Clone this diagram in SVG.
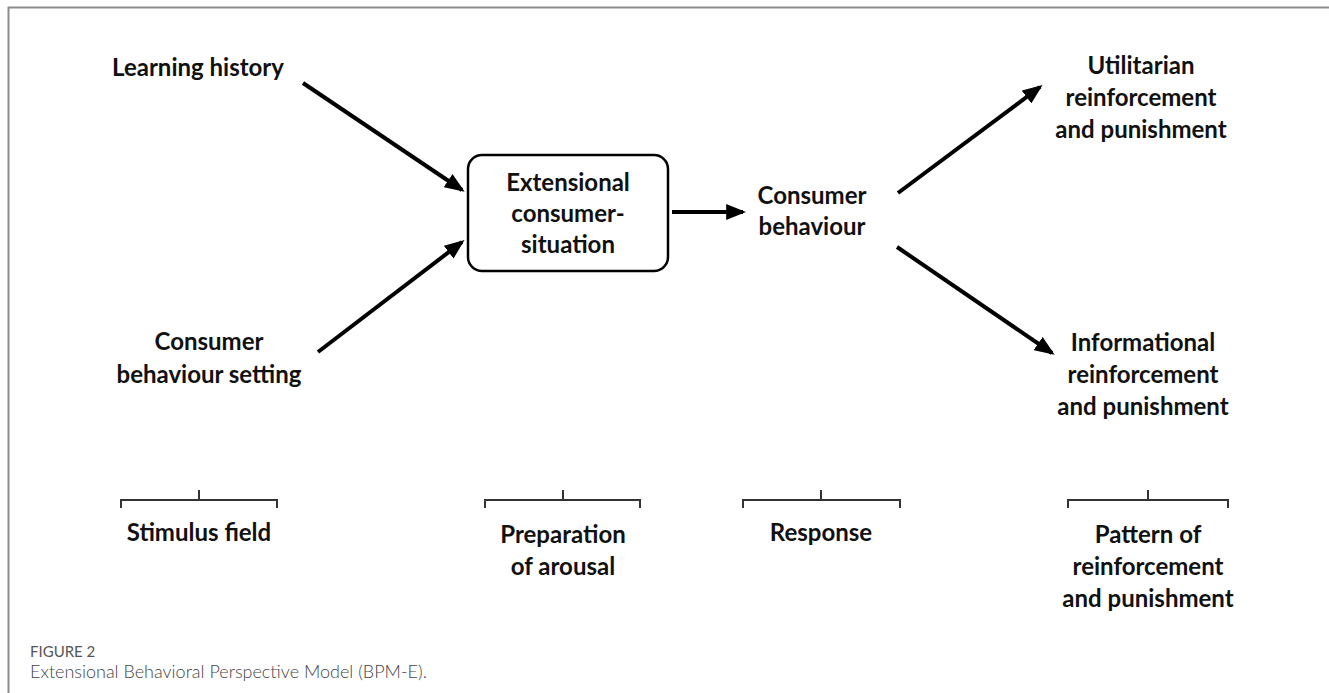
<svg xmlns="http://www.w3.org/2000/svg" width="1329" height="693" viewBox="0 0 1329 693">
  <style>
    .lbl { font-family: Lato, "Open Sans", "Liberation Sans", sans-serif; font-weight: 700; font-size: 24px; fill: #111; text-anchor: middle; }
    .frame { stroke: #8c8c8c; stroke-width: 2; fill: none; }
    .conn { stroke: #000; stroke-width: 4; fill: none; marker-end: url(#head); }
    .brk { stroke: #333; stroke-width: 2; fill: none; }
    .fig { font-family: Lato, "Open Sans", "Liberation Sans", sans-serif; font-size: 15px; fill: #555; }
    .cap { font-family: Lato, "Open Sans", "Liberation Sans", sans-serif; font-weight: 300; font-size: 18px; fill: #444; }
  </style>
  <defs>
    <marker id="head" markerWidth="5" markerHeight="4" refX="4.2" refY="2" orient="auto" markerUnits="strokeWidth">
      <path d="M0,0 L5,2 L0,4 Z" fill="#000"/>
    </marker>
  </defs>

  <rect width="1329" height="693" fill="#fff"/>

  <!-- frame -->
  <path class="frame" d="M8.5,693 V7.5 H1329"/>

  <!-- connectors -->
  <g id="connectors">
    <line class="conn" x1="303" y1="83" x2="462" y2="190"/>
    <line class="conn" x1="318" y1="352" x2="462" y2="242"/>
    <line class="conn" x1="672" y1="212" x2="743" y2="212"/>
    <line class="conn" x1="898" y1="193" x2="1040" y2="87"/>
    <line class="conn" x1="897" y1="247" x2="1052" y2="353"/>
  </g>

  <g id="learning-history">
    <text class="lbl" x="198" y="76">Learning history</text>
  </g>

  <g id="behaviour-setting">
    <text class="lbl" x="209" y="350">Consumer</text>
    <text class="lbl" x="209" y="383">behaviour setting</text>
  </g>

  <g id="consumer-situation">
    <rect x="468" y="155" width="200" height="116" rx="14" fill="#fff" stroke="#000" stroke-width="2.5"/>
    <text class="lbl" x="568" y="191">Extensional</text>
    <text class="lbl" x="568" y="222">consumer-</text>
    <text class="lbl" x="568" y="253">situation</text>
  </g>

  <g id="consumer-behaviour">
    <text class="lbl" x="812" y="204">Consumer</text>
    <text class="lbl" x="812" y="235">behaviour</text>
  </g>

  <g id="utilitarian">
    <text class="lbl" x="1141" y="74">Utilitarian</text>
    <text class="lbl" x="1141" y="106">reinforcement</text>
    <text class="lbl" x="1141" y="138">and punishment</text>
  </g>

  <g id="informational">
    <text class="lbl" x="1143" y="351">Informational</text>
    <text class="lbl" x="1143" y="383">reinforcement</text>
    <text class="lbl" x="1143" y="415">and punishment</text>
  </g>

  <!-- phase brackets -->
  <g id="stimulus-field">
    <path class="brk" d="M121,508 V500 H277 V508 M199,500 V490"/>
    <text class="lbl" x="199" y="541">Stimulus field</text>
  </g>

  <g id="preparation">
    <path class="brk" d="M485,508 V500 H640 V508 M563,500 V490"/>
    <text class="lbl" x="563" y="543">Preparation</text>
    <text class="lbl" x="563" y="575">of arousal</text>
  </g>

  <g id="response">
    <path class="brk" d="M743,508 V500 H900 V508 M821,500 V490"/>
    <text class="lbl" x="821" y="541">Response</text>
  </g>

  <g id="pattern">
    <path class="brk" d="M1068,508 V500 H1228 V508 M1148,500 V490"/>
    <text class="lbl" x="1148" y="543">Pattern of</text>
    <text class="lbl" x="1148" y="575">reinforcement</text>
    <text class="lbl" x="1148" y="607">and punishment</text>
  </g>

  <!-- caption -->
  <text class="fig" x="30" y="657">FIGURE 2</text>
  <text class="cap" x="30" y="678">Extensional Behavioral Perspective Model (BPM-E).</text>
</svg>
